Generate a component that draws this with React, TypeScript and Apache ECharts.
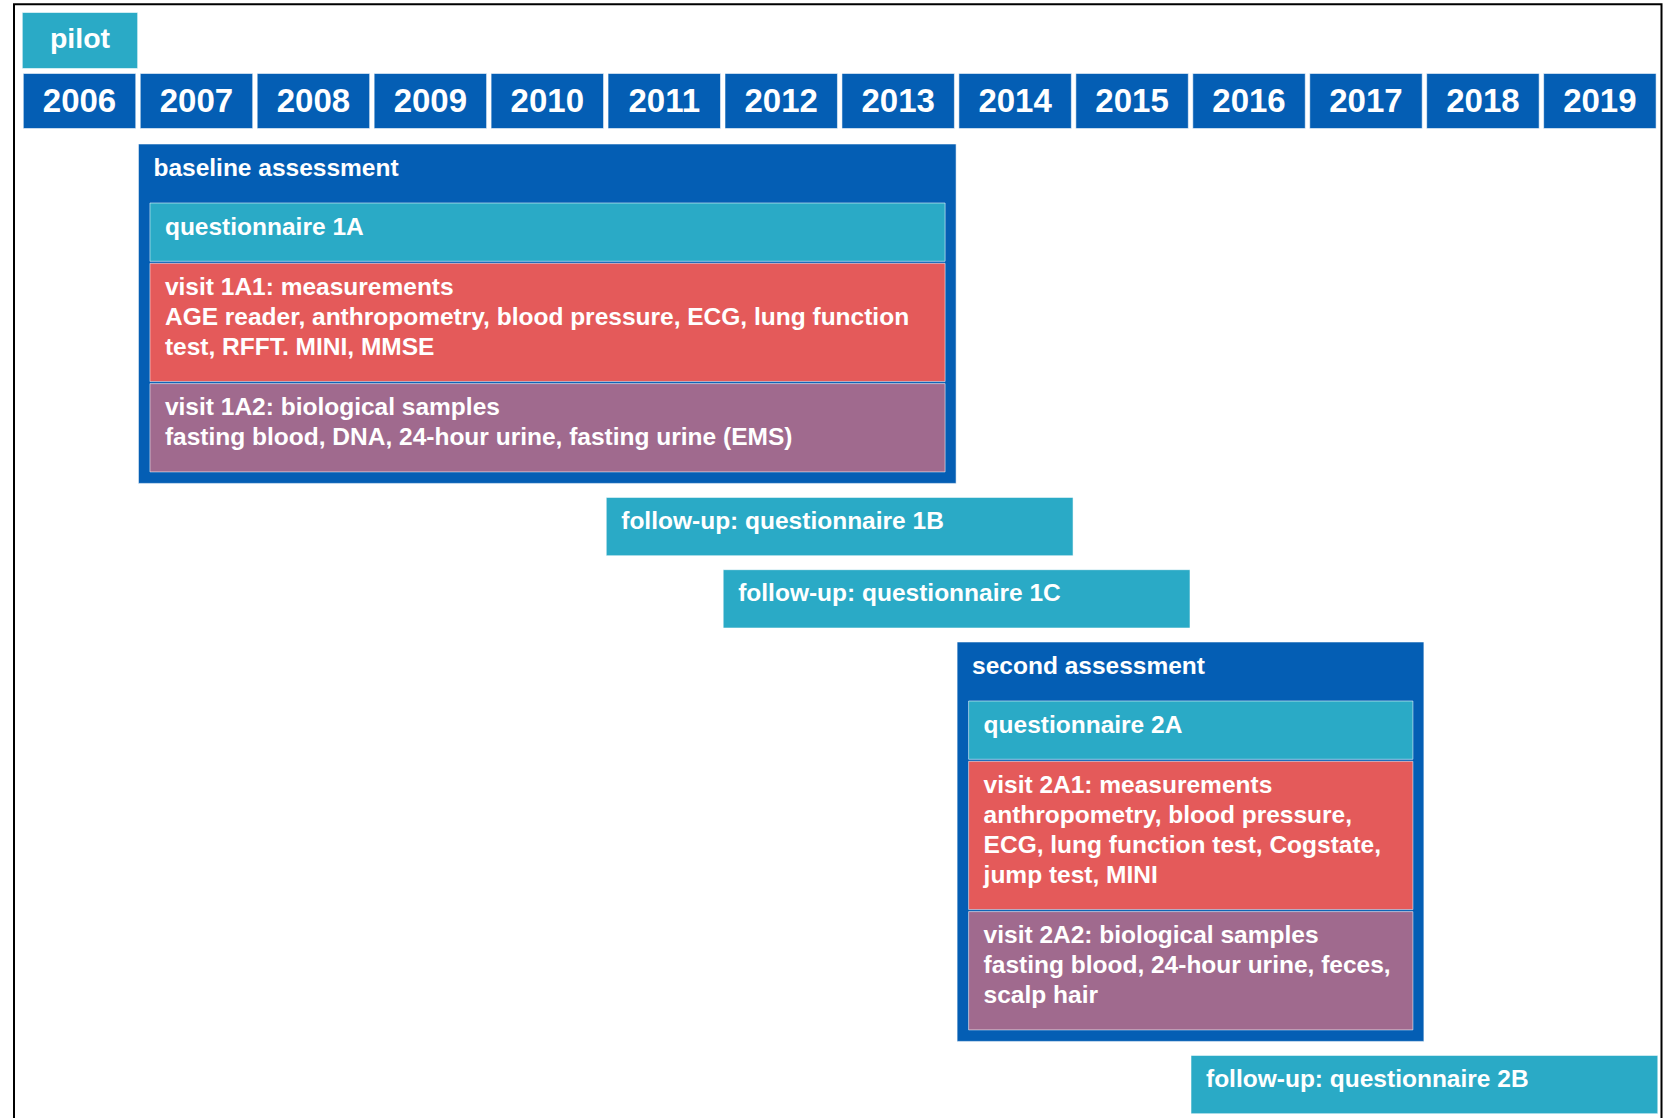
import { useEffect, useRef } from "react";
import * as echarts from "echarts";

// ---------- data ----------
const yearLabels = ["2006", "2007", "2008", "2009", "2010", "2011", "2012", "2013", "2014", "2015", "2016", "2017", "2018", "2019"];
const firstYear = 2006;
const lastYearEnd = 2020;

const pilotLabel = "pilot";
const pilotSpan = [2006, 2007];

const baselineTitle = "baseline assessment";
const baselineSpan = [2007, 2014];
const baselineQuestionnaire = ["questionnaire 1A"];
const baselineMeasurements = [
  "visit 1A1: measurements",
  "AGE reader, anthropometry, blood pressure, ECG, lung function",
  "test, RFFT. MINI, MMSE",
];
const baselineSamples = [
  "visit 1A2: biological samples",
  "fasting blood, DNA, 24-hour urine, fasting urine (EMS)",
];

const followUp1BLabel = "follow-up: questionnaire 1B";
const followUp1BSpan = [2011, 2015];
const followUp1CLabel = "follow-up: questionnaire 1C";
const followUp1CSpan = [2012, 2016];

const secondTitle = "second assessment";
const secondSpan = [2014, 2018];
const secondQuestionnaire = ["questionnaire 2A"];
const secondMeasurements = [
  "visit 2A1: measurements",
  "anthropometry, blood pressure,",
  "ECG, lung function test, Cogstate,",
  "jump test, MINI",
];
const secondSamples = [
  "visit 2A2: biological samples",
  "fasting blood, 24-hour urine, feces,",
  "scalp hair",
];

const followUp2BLabel = "follow-up: questionnaire 2B";
const followUp2BSpan = [2016, 2020];

// ---------- styles / layout ----------
const BLUE = "#045EB4";
const TEAL = "#2AAAC6";
const RED = "#E45A5A";
const PURPLE = "#A06A8E";
const EDGE = "rgba(255,255,255,0.55)";
const FONT = '"Liberation Sans", Arial, Helvetica, sans-serif';

const W = 1673;
const H = 1118;
const AXIS_LEFT = 22.5;
const YEAR_STEP = 116.95;

const L = {
  pilotTop: 12.5,
  pilotH: 56,
  yearTop: 73.5,
  yearH: 55,
  firstTop: 144,
  gap: 14,
  header: 59,
  rowH: 58.3,
  lineH: 30,
  innerGap: 2,
  insetL: 11.5,
  insetR: 11,
  bottomPad: 11.5,
  textPad: 15,
  textTop: 8,
};

type Block = {
  kind: "pilot" | "year" | "outer" | "inner" | "follow";
  start: number;
  end: number;
  top: number;
  h: number;
  fill: string;
  lines: string[];
};

function buildBlocks(): Block[] {
  const blocks: Block[] = [];
  blocks.push({ kind: "pilot", start: pilotSpan[0], end: pilotSpan[1], top: L.pilotTop, h: L.pilotH, fill: TEAL, lines: [pilotLabel] });
  yearLabels.forEach((lab, i) =>
    blocks.push({ kind: "year", start: firstYear + i, end: firstYear + i + 1, top: L.yearTop, h: L.yearH, fill: BLUE, lines: [lab] })
  );
  let y = L.firstTop;
  const rowHeight = (lines: string[]) => L.rowH + L.lineH * (lines.length - 1);
  const addGroup = (title: string, span: number[], parts: { lines: string[]; fill: string }[]) => {
    const hs = parts.map((p) => rowHeight(p.lines));
    const total = L.header + hs.reduce((a, b) => a + b, 0) + L.innerGap * (parts.length - 1) + L.bottomPad;
    blocks.push({ kind: "outer", start: span[0], end: span[1], top: y, h: total, fill: BLUE, lines: [title] });
    let iy = y + L.header;
    parts.forEach((p, k) => {
      blocks.push({ kind: "inner", start: span[0], end: span[1], top: iy, h: hs[k], fill: p.fill, lines: p.lines });
      iy += hs[k] + L.innerGap;
    });
    y += total + L.gap;
  };
  const addFollow = (label: string, span: number[]) => {
    blocks.push({ kind: "follow", start: span[0], end: span[1], top: y, h: L.rowH, fill: TEAL, lines: [label] });
    y += L.rowH + L.gap;
  };
  addGroup(baselineTitle, baselineSpan, [
    { lines: baselineQuestionnaire, fill: TEAL },
    { lines: baselineMeasurements, fill: RED },
    { lines: baselineSamples, fill: PURPLE },
  ]);
  addFollow(followUp1BLabel, followUp1BSpan);
  addFollow(followUp1CLabel, followUp1CSpan);
  addGroup(secondTitle, secondSpan, [
    { lines: secondQuestionnaire, fill: TEAL },
    { lines: secondMeasurements, fill: RED },
    { lines: secondSamples, fill: PURPLE },
  ]);
  addFollow(followUp2BLabel, followUp2BSpan);
  return blocks;
}

export default function App() {
  const ref = useRef<HTMLDivElement>(null);
  useEffect(() => {
    document.body.style.margin = "0";
    if (!ref.current) return;
    const chart = echarts.init(ref.current, undefined, { renderer: "svg" });
    const blocks = buildBlocks();
    const gridRight = W - AXIS_LEFT - YEAR_STEP * (lastYearEnd - firstYear);
    chart.setOption({
      animation: false,
      backgroundColor: "#ffffff",
      grid: { left: AXIS_LEFT, right: gridRight, top: 0, bottom: 0 },
      xAxis: { type: "value", min: firstYear, max: lastYearEnd, show: false },
      yAxis: { type: "value", min: 0, max: H, inverse: true, show: false },
      graphic: [
        {
          type: "rect",
          shape: { x: 14, y: 4.3, width: 1647.5, height: 1200 },
          style: { fill: "none", stroke: "#000", lineWidth: 2 },
          silent: true,
          z: 0,
        },
      ],
      series: [
        {
          type: "custom",
          clip: false,
          encode: { x: [0, 1], y: 2 },
          data: blocks.map((b) => [b.start, b.end, b.top]),
          renderItem: (params: any, api: any) => {
            const b = blocks[params.dataIndex];
            const xs = api.coord([api.value(0), 0])[0];
            const xe = api.coord([api.value(1), 0])[0];
            let left = xs - 1;
            let right = xe - 2;
            if (b.kind === "year") {
              left = xs + 0.8;
              right = xe - 3.7;
            } else if (b.kind === "pilot") {
              left = xs - 0.2;
              right = xe - 1.8;
            } else if (b.kind === "inner") {
              left = xs - 1 + L.insetL;
              right = xe - 2 - L.insetR;
            }
            const rect = {
              type: "rect",
              shape: { x: left, y: b.top, width: right - left, height: b.h },
              style: { fill: b.fill, stroke: EDGE, lineWidth: 1 },
            };
            let text: any;
            if (b.kind === "year" || b.kind === "pilot") {
              text = {
                type: "text",
                style: {
                  text: b.lines[0],
                  x: (left + right) / 2,
                  y: b.top + b.h / 2 - (b.kind === "pilot" ? 2.5 : 0.5),
                  align: "center",
                  verticalAlign: "middle",
                  fill: "#ffffff",
                  font: `bold ${b.kind === "year" ? 33 : 28.5}px ${FONT}`,
                },
              };
            } else {
              text = {
                type: "text",
                style: {
                  text: b.lines.join("\n"),
                  x: left + L.textPad,
                  y: b.top + L.textTop,
                  align: "left",
                  verticalAlign: "top",
                  lineHeight: L.lineH,
                  fill: "#ffffff",
                  font: `bold 24.5px ${FONT}`,
                },
              };
            }
            return { type: "group", children: [rect, text] };
          },
        },
      ],
    });
    return () => chart.dispose();
  }, []);
  return <div ref={ref} style={{ width: W, height: H }} />;
}
